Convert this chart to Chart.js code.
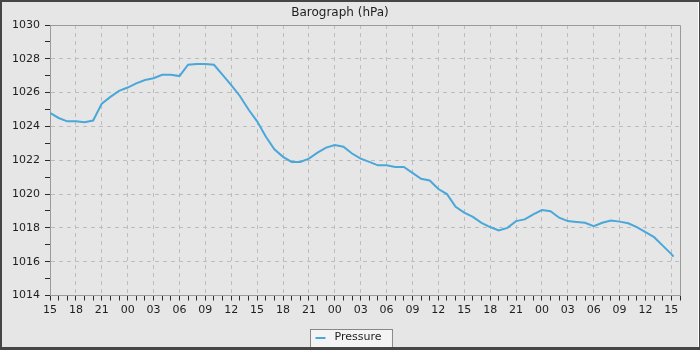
<!DOCTYPE html>
<html>
<head>
<meta charset="utf-8">
<title>Barograph (hPa)</title>
<script src="https://cdn.jsdelivr.net/npm/chart.js@4.4.1/dist/chart.umd.min.js"></script>
<style>
	html, body { margin: 0; padding: 0; background: #e6e6e6; }
	#baro-chart { display: block; }
</style>
</head>
<body>
<canvas id="baro-chart" width="700" height="350"></canvas>
<script>
/**
 * Chart data.
 * Hours are counted from the first 15:00 on the x axis.
 */
var hours = [
	0, 1, 2, 3, 4, 5, 6, 7, 8, 9, 10, 11, 12,
	13, 14, 15, 16, 17, 18, 19, 20, 21, 22, 23, 24,
	25, 26, 27, 28, 29, 30, 31, 32, 33, 34, 35, 36,
	37, 38, 39, 40, 41, 42, 43, 44, 45, 46, 47, 48,
	49, 50, 51, 52, 53, 54, 55, 56, 57, 58, 59, 60,
	61, 62, 63, 64, 65, 66, 67, 68, 69, 70, 71, 72, 72.25
];

var pressure = [
	1024.8, 1024.5, 1024.3, 1024.3, 1024.25, 1024.35, 1025.35, 1025.75, 1026.1, 1026.3, 1026.55, 1026.75, 1026.85,
	1027.05, 1027.05, 1026.98, 1027.65, 1027.7, 1027.7, 1027.65, 1027.05, 1026.45, 1025.8, 1025.0, 1024.3,
	1023.4, 1022.65, 1022.2, 1021.9, 1021.9, 1022.1, 1022.45, 1022.75, 1022.9, 1022.8, 1022.4, 1022.1,
	1021.9, 1021.7, 1021.7, 1021.6, 1021.6, 1021.25, 1020.9, 1020.8, 1020.3, 1020.0, 1019.25, 1018.9,
	1018.65, 1018.3, 1018.05, 1017.85, 1018.0, 1018.4, 1018.5, 1018.8, 1019.05, 1018.98, 1018.6, 1018.4,
	1018.35, 1018.3, 1018.1, 1018.3, 1018.43, 1018.37, 1018.27, 1018.05, 1017.75, 1017.45, 1016.95, 1016.45, 1016.3
];

// One label for every third hour, starting at 15:00.
var hourLabels = [
	'15', '18', '21', '00', '03', '06', '09', '12',
	'15', '18', '21', '00', '03', '06', '09', '12',
	'15', '18', '21', '00', '03', '06', '09', '12', '15'
];

var seriesLabel = 'Pressure';
var chartTitle = 'Barograph (hPa)';

( function() {
	'use strict';

	var lineColor = '#4aa7d9';
	var gridColor = '#bdbdbd';
	var axisColor = '#9a9a9a';
	var textColor = '#1e1e1e';
	var frameColor = '#464646';
	var fontFamily = '"DejaVu Sans", Verdana, sans-serif';

	Chart.defaults.font.family = fontFamily;

	/**
	 * Background, plot border, outer frame and the boxed legend.
	 */
	var framePlugin = {
		id: 'baroFrame',

		beforeDraw: function( chart ) {
			var ctx = chart.ctx;
			ctx.save();
			ctx.fillStyle = '#e6e6e6';
			ctx.fillRect( 0, 0, chart.width, chart.height );
			ctx.restore();
		},

		beforeDatasetsDraw: function( chart ) {
			var ctx = chart.ctx;
			var area = chart.chartArea;

			// Top and right edge of the plot area.
			ctx.save();
			ctx.strokeStyle = axisColor;
			ctx.lineWidth = 1;
			ctx.beginPath();
			ctx.moveTo( area.left, Math.round( area.top ) + 0.5 );
			ctx.lineTo( Math.round( area.right ) + 0.5, Math.round( area.top ) + 0.5 );
			ctx.lineTo( Math.round( area.right ) + 0.5, area.bottom );
			ctx.stroke();
			ctx.restore();
		},

		afterDraw: function( chart ) {
			var ctx = chart.ctx;
			var w = chart.width;
			var h = chart.height;
			var dataset = chart.data.datasets[ 0 ];

			ctx.save();

			// Legend box.
			ctx.font = '11px ' + fontFamily;
			var textWidth = ctx.measureText( dataset.label ).width;
			var boxWidth = 5 + 10 + 9 + textWidth + 11;
			var boxLeft = Math.round( w / 2 + 1 - boxWidth / 2 ) + 0.5;
			var boxTop = 329.5;

			ctx.fillStyle = '#f4f4f4';
			ctx.fillRect( boxLeft, boxTop, boxWidth, h - boxTop );
			ctx.strokeStyle = '#888';
			ctx.lineWidth = 1;
			ctx.strokeRect( boxLeft, boxTop, boxWidth, h - boxTop );

			ctx.strokeStyle = dataset.borderColor;
			ctx.lineWidth = 2;
			ctx.beginPath();
			ctx.moveTo( boxLeft + 5, 338 );
			ctx.lineTo( boxLeft + 15, 338 );
			ctx.stroke();

			ctx.fillStyle = textColor;
			ctx.textBaseline = 'middle';
			ctx.textAlign = 'left';
			ctx.fillText( dataset.label, boxLeft + 24, 337.5 );

			// Outer frame.
			ctx.fillStyle = frameColor;
			ctx.fillRect( 0, 0, w, 2 );
			ctx.fillRect( 0, 0, 2, h );
			ctx.fillRect( 0, h - 3, w, 3 );
			ctx.fillRect( w - 1, 0, 1, h );
			ctx.fillStyle = '#ffffff';
			ctx.fillRect( w - 2, 2, 1, h - 5 );

			ctx.restore();
		}
	};

	/**
	 * Build the point list for the pressure line.
	 *
	 * @return {Array} Array of { x, y } objects.
	 */
	function buildPoints() {
		return hours.map( function( hour, i ) {
			return { x: hour, y: pressure[ i ] };
		} );
	}

	function initChart() {
		var canvas = document.getElementById( 'baro-chart' );

		return new Chart( canvas, {
			type: 'line',
			data: {
				datasets: [ {
					label: seriesLabel,
					data: buildPoints(),
					borderColor: lineColor,
					borderWidth: 2,
					pointRadius: 0,
					fill: false,
					tension: 0
				} ]
			},
			options: {
				responsive: false,
				animation: false,
				layout: {
					padding: { left: 0, right: 20, top: 0, bottom: 0 }
				},
				plugins: {
					legend: { display: false },
					tooltip: { enabled: false },
					title: {
						display: true,
						text: chartTitle,
						color: textColor,
						font: { size: 12, weight: 'normal' },
						padding: { top: 6, bottom: 4.6 }
					}
				},
				scales: {
					x: {
						type: 'linear',
						min: 0,
						max: 73,
						afterFit: function( scale ) {
							scale.height = 54.5;
						},
						ticks: {
							stepSize: 1,
							autoSkip: false,
							maxRotation: 0,
							padding: 3,
							color: textColor,
							font: { size: 11 },
							callback: function( value ) {
								return value % 3 === 0 ? hourLabels[ value / 3 ] : '';
							}
						},
						grid: {
							color: function( ctx ) {
								return ctx.tick && ctx.tick.value % 3 === 0 ? gridColor : 'rgba(0,0,0,0)';
							},
							tickColor: '#2a2a2a',
							tickLength: 5
						},
						border: { color: axisColor, dash: [ 4, 4 ] }
					},
					y: {
						min: 1014,
						max: 1030,
						afterFit: function( scale ) {
							scale.width = 50;
						},
						ticks: {
							stepSize: 1,
							autoSkip: false,
							padding: 5,
							color: textColor,
							font: { size: 11 },
							callback: function( value ) {
								return value % 2 === 0 ? String( value ) : '';
							}
						},
						grid: {
							color: function( ctx ) {
								return ctx.tick && ctx.tick.value % 2 === 0 ? gridColor : 'rgba(0,0,0,0)';
							},
							tickColor: '#2a2a2a',
							tickLength: 5
						},
						border: { color: axisColor, dash: [ 4, 4 ] }
					}
				}
			},
			plugins: [ framePlugin ]
		} );
	}

	initChart();
} )();
</script>
</body>
</html>
